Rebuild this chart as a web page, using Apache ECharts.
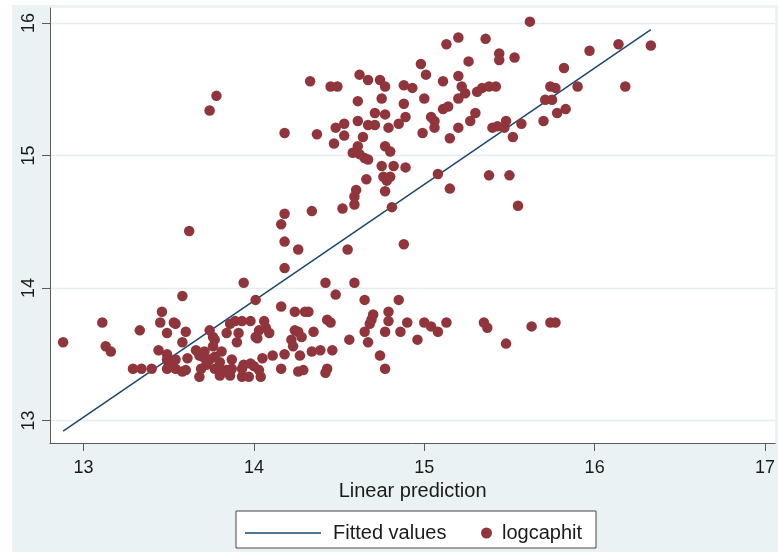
<!DOCTYPE html>
<html><head><meta charset="utf-8">
<script src="https://cdn.jsdelivr.net/npm/echarts@6/dist/echarts.min.js"></script>
<style>
html,body{margin:0;padding:0;background:#fff;}
#bg{position:absolute;left:12px;top:5px;width:766px;height:547px;background:#eaf2f3;}
#chart{position:absolute;left:0;top:0;width:778px;height:552px;}
</style></head><body>
<div id="bg"></div><div id="chart"></div>
<script>
const xTicks = [13, 14, 15, 16, 17];
const yTicks = [13, 14, 15, 16];

const linPred = [
12.88,13.11,13.13,13.16,13.29,13.34,13.40,13.33,13.46,13.45,13.53,13.54,13.49,13.60,13.58,13.58,13.62,13.44,13.49,13.49,
13.50,13.49,13.54,13.58,13.60,13.61,13.66,13.68,13.70,13.71,13.68,13.72,13.74,13.76,13.77,13.76,13.81,13.80,13.77,13.74,
13.69,13.77,13.81,13.84,13.87,13.80,13.86,13.93,13.97,13.86,13.89,13.93,13.98,14.06,13.84,13.91,13.90,14.02,14.03,14.09,
14.07,13.87,13.98,14.04,13.93,13.94,14.00,14.11,14.05,14.01,13.94,14.01,14.16,14.24,14.30,14.32,14.42,14.48,14.59,14.65,
14.85,14.43,14.45,14.70,14.69,14.68,14.79,14.79,14.77,14.90,14.86,15.00,15.04,15.08,15.13,15.35,15.37,15.48,14.96,14.74,
14.77,14.65,14.67,14.56,14.24,14.26,14.28,14.22,14.23,14.35,14.34,14.39,14.46,14.18,14.03,14.27,14.16,14.26,14.29,14.43,
14.42,13.54,15.63,15.74,15.77,
13.78,13.74,14.18,14.33,14.45,14.49,14.37,14.48,14.47,14.18,14.16,14.34,14.52,14.18,14.26,14.18,14.55,14.59,14.59,14.60,
14.81,14.88,14.66,14.76,14.78,14.77,14.80,14.75,14.82,14.89,14.77,14.80,14.64,14.61,14.58,14.62,14.65,14.67,14.53,14.53,
14.61,14.61,14.62,14.67,14.74,14.77,14.88,14.93,14.75,14.71,14.77,14.67,14.71,14.79,14.85,14.89,14.88,15.00,14.98,15.01,
15.04,15.06,15.06,14.99,15.11,15.11,15.14,15.15,15.20,15.27,15.30,15.13,15.20,15.36,15.44,15.44,15.26,15.53,15.20,15.22,
15.24,15.20,15.31,15.34,15.38,15.42,15.40,15.43,15.47,15.48,15.52,15.08,15.15,15.38,15.50,15.55,15.62,15.82,15.97,16.14,
16.33,16.18,15.90,15.74,15.77,15.71,15.75,15.78,15.83,15.70,15.57
];
const logcaphit = [
13.59,13.74,13.56,13.52,13.39,13.39,13.39,13.68,13.82,13.74,13.74,13.73,13.66,13.67,13.59,13.94,14.43,13.53,13.50,13.46,
13.43,13.39,13.39,13.37,13.38,13.47,13.53,13.49,13.48,13.52,13.33,13.42,13.68,13.63,13.61,13.56,13.52,13.44,13.48,13.46,
13.39,13.39,13.38,13.38,13.39,13.34,13.34,13.33,13.33,13.73,13.75,13.75,13.75,13.75,13.66,13.66,13.59,13.62,13.68,13.66,
13.70,13.46,13.43,13.33,13.39,13.42,13.41,13.49,13.47,13.63,14.04,13.91,13.86,13.82,13.82,13.82,14.04,13.95,14.04,13.91,
13.91,13.76,13.74,13.80,13.76,13.73,13.82,13.75,13.67,13.74,13.67,13.74,13.71,13.67,13.74,13.74,13.70,13.58,13.61,13.49,
13.39,13.67,13.59,13.61,13.68,13.67,13.63,13.61,13.56,13.67,13.52,13.53,13.53,13.50,13.38,13.49,13.39,13.37,13.38,13.39,
13.36,13.46,13.71,13.74,13.74,
15.45,15.34,15.17,15.56,15.52,15.52,15.16,15.21,15.09,14.56,14.48,14.58,14.60,14.35,14.29,14.15,14.29,14.63,14.69,14.74,
14.61,14.33,14.82,14.84,14.81,14.73,14.84,14.92,14.92,14.91,15.07,15.03,15.14,15.07,15.02,15.01,14.98,14.97,15.24,15.15,
15.26,15.41,15.61,15.57,15.57,15.52,15.53,15.51,15.43,15.32,15.31,15.23,15.23,15.21,15.24,15.29,15.39,15.43,15.69,15.61,
15.29,15.26,15.21,15.17,15.56,15.35,15.37,15.13,15.21,15.26,15.32,15.84,15.89,15.88,15.77,15.72,15.71,15.74,15.60,15.52,
15.47,15.43,15.48,15.51,15.52,15.52,15.21,15.22,15.21,15.26,15.14,14.86,14.75,14.85,14.85,14.62,16.01,15.66,15.79,15.84,
15.83,15.52,15.52,15.52,15.51,15.42,15.42,15.32,15.35,15.26,15.24
];

const fitX = [12.88, 16.33];
const fitY = [12.92, 15.95];

const pts = linPred.map((x, i) => [x, logcaphit[i]]);
const fit = fitX.map((x, i) => [x, fitY[i]]);

const FONT = '"Liberation Sans", Arial, sans-serif';
const chart = echarts.init(document.getElementById('chart'), null, {renderer: 'canvas'});
chart.setOption({
  backgroundColor: 'transparent',
  animation: false,
  textStyle: {fontFamily: FONT},
  grid: {left: 50, right: 0, top: 8, bottom: 109, show: true, backgroundColor: '#ffffff', borderWidth: 0},
  xAxis: {
    type: 'value', min: 12.803, max: 17.06,
    name: 'Linear prediction', nameLocation: 'middle', nameGap: 36,
    nameTextStyle: {fontSize: 20, color: '#1a1a1a', fontFamily: FONT},
    axisLine: {show: true, onZero: false, lineStyle: {color: '#5a5a5a', width: 1}},
    axisTick: {show: true, length: 8, customValues: xTicks, lineStyle: {color: '#5a5a5a'}},
    axisLabel: {customValues: xTicks, fontSize: 18, color: '#1a1a1a', margin: 16, fontFamily: FONT},
    splitLine: {show: false}
  },
  yAxis: {
    type: 'value', min: 12.83, max: 16.113,
    axisLine: {show: true, onZero: false, lineStyle: {color: '#5a5a5a', width: 1}},
    axisTick: {show: true, length: 8, customValues: yTicks, lineStyle: {color: '#5a5a5a'}},
    axisLabel: {customValues: yTicks, rotate: 90, fontSize: 18, color: '#1a1a1a', margin: 12, fontFamily: FONT},
    splitLine: {show: true, lineStyle: {color: '#e4ecee', width: 1.3}}
  },
  legend: [
    {data: [{name: 'Fitted values', icon: 'rect'}], left: 240, top: 518, itemWidth: 76, itemHeight: 1.5,
     selectedMode: false, itemStyle: {color: '#1a476f'},
     textStyle: {fontSize: 20, color: '#1a1a1a', padding: [0, 0, 0, 7], fontFamily: FONT}},
    {data: [{name: 'logcaphit', icon: 'circle'}], left: 476, top: 518, itemWidth: 11, itemHeight: 11,
     selectedMode: false, itemStyle: {color: '#90353b'},
     textStyle: {fontSize: 20, color: '#1a1a1a', padding: [0, 0, 0, 5], fontFamily: FONT}}
  ],
  graphic: [{type: 'rect', shape: {x: 236, y: 511, width: 360, height: 37},
             style: {fill: '#ffffff', stroke: '#444444', lineWidth: 1}}],
  series: [
    {type: 'line', name: 'Fitted values', data: fit, showSymbol: false, symbol: 'none', silent: true,
     lineStyle: {color: '#1a476f', width: 1.5}, itemStyle: {color: '#1a476f'}, z: 2},
    {type: 'scatter', name: 'logcaphit', data: pts, symbolSize: 10.5,
     itemStyle: {color: '#90353b', opacity: 1}, z: 3}
  ]
});
</script></body></html>
